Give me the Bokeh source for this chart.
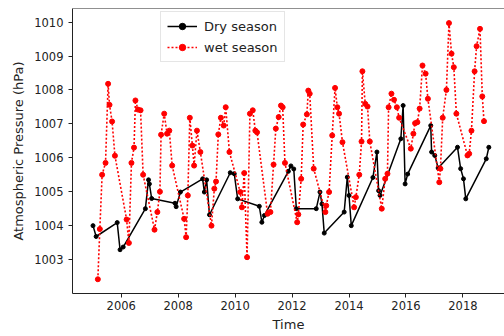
from bokeh.plotting import figure
from bokeh.models import (Range1d, FixedTicker, Legend, LegendItem, Span)
from bokeh.embed import file_html
from bokeh.resources import INLINE

# Monthly surface pressure (hPa), split by season; time in decimal years
dry_time = [2005.01, 2005.12, 2005.86, 2005.96, 2006.07,
            2006.85, 2006.96, 2006.99, 2007.07,
            2007.89, 2007.93, 2008.08,
            2008.86, 2008.92, 2009.00, 2009.10,
            2009.83, 2009.97, 2010.09,
            2010.85, 2010.94, 2011.03,
            2011.87, 2011.96, 2012.06, 2012.15,
            2012.85, 2012.98, 2013.05, 2013.13,
            2013.83, 2013.94, 2014.00, 2014.08,
            2014.84, 2014.98, 2015.04, 2015.09,
            2015.82, 2015.90, 2015.97, 2016.06,
            2016.87, 2016.90, 2017.01, 2017.13,
            2017.81, 2017.92, 2018.02, 2018.10,
            2018.82, 2018.91]
dry_pressure = [1004.00, 1003.68, 1004.09, 1003.29, 1003.37,
                1004.50, 1005.35, 1005.23, 1004.80,
                1004.66, 1004.56, 1004.99,
                1005.38, 1004.99, 1005.35, 1004.32,
                1005.56, 1005.53, 1004.79,
                1004.57, 1004.10, 1004.30,
                1005.60, 1005.76, 1005.67, 1004.50,
                1004.50, 1004.99, 1004.64, 1003.78,
                1004.40, 1005.43, 1004.89, 1004.00,
                1005.42, 1006.17, 1005.03, 1004.89,
                1006.56, 1007.54, 1005.23, 1005.52,
                1006.95, 1006.17, 1006.07, 1005.70,
                1006.31, 1005.68, 1005.38, 1004.79,
                1005.97, 1006.31]

wet_time = [2005.18, 2005.25, 2005.33, 2005.45, 2005.54, 2005.59, 2005.68, 2005.78,
            2006.19, 2006.27, 2006.36, 2006.45, 2006.50, 2006.59, 2006.68, 2006.77,
            2007.17, 2007.27, 2007.36, 2007.40, 2007.51, 2007.61, 2007.69, 2007.79,
            2008.21, 2008.28, 2008.34, 2008.41, 2008.50, 2008.56, 2008.66, 2008.78,
            2009.17, 2009.27, 2009.33, 2009.41, 2009.50, 2009.60, 2009.67, 2009.80,
            2010.18, 2010.24, 2010.32, 2010.42, 2010.52, 2010.62, 2010.71, 2010.77,
            2011.14, 2011.24, 2011.35, 2011.43, 2011.53, 2011.61, 2011.67, 2011.75,
            2012.18, 2012.22, 2012.32, 2012.39, 2012.52, 2012.57, 2012.62, 2012.76,
            2013.17, 2013.20, 2013.30, 2013.41, 2013.51, 2013.59, 2013.65, 2013.77,
            2014.18, 2014.24, 2014.36, 2014.44, 2014.47, 2014.57, 2014.65, 2014.73,
            2015.15, 2015.27, 2015.35, 2015.39, 2015.49, 2015.58, 2015.68, 2015.76,
            2016.17, 2016.26, 2016.32, 2016.40, 2016.48, 2016.58, 2016.69, 2016.77,
            2017.17, 2017.21, 2017.29, 2017.42, 2017.51, 2017.60, 2017.68, 2017.77,
            2018.16, 2018.22, 2018.30, 2018.41, 2018.48, 2018.60, 2018.68, 2018.74]
wet_pressure = [1002.42, 1003.90, 1005.50, 1005.85, 1008.18, 1007.56, 1007.07, 1006.06,
                1004.18, 1003.49, 1005.85, 1006.30, 1007.69, 1007.42, 1007.40, 1005.50,
                1003.88, 1004.40, 1005.00, 1006.68, 1007.30, 1006.71, 1006.80, 1005.77,
                1004.20, 1003.66, 1004.89, 1007.18, 1006.36, 1005.77, 1006.80, 1006.17,
                1004.00, 1005.09, 1005.30, 1006.69, 1007.18, 1006.95, 1007.49, 1006.17,
                1004.99, 1004.54, 1005.55, 1003.07, 1007.30, 1007.40, 1006.80, 1006.75,
                1004.35, 1004.40, 1005.80, 1006.86, 1007.20, 1007.54, 1007.49, 1005.85,
                1004.10, 1004.33, 1005.38, 1006.98, 1007.28, 1007.98, 1007.89, 1005.68,
                1004.40, 1004.59, 1004.99, 1006.66, 1008.06, 1007.49, 1007.30, 1006.46,
                1004.54, 1004.84, 1005.50, 1006.48, 1008.55, 1007.59, 1007.51, 1006.48,
                1004.50, 1005.38, 1005.53, 1007.49, 1007.89, 1007.71, 1007.49, 1007.18,
                1006.27, 1006.71, 1007.02, 1007.05, 1007.45, 1008.72, 1008.48, 1007.74,
                1005.28, 1005.68, 1007.18, 1008.00, 1009.97, 1009.07, 1008.67, 1007.30,
                1006.07, 1006.12, 1006.80, 1008.55, 1009.29, 1009.80, 1007.81, 1007.08]

year_ticks = [2006, 2008, 2010, 2012, 2014, 2016, 2018]
pressure_ticks = [1003, 1004, 1005, 1006, 1007, 1008, 1009, 1010]

FONT = "DejaVu Sans"
INK = "#222222"

p = figure(width=504, height=336, output_backend="svg", toolbar_location=None,
           x_range=Range1d(2004.29, 2019.46), y_range=Range1d(1002.0, 1010.4),
           min_border_left=72, min_border_right=0, min_border_top=8,
           min_border_bottom=43)
p.outline_line_color = None
p.grid.visible = False
p.background_fill_color = "white"
p.border_fill_color = "white"

# top spine only (the right one sits just outside the canvas)
p.add_layout(Span(location=1010.4, dimension="width", line_color=INK,
                  line_width=1))

dry_line = p.line(dry_time, dry_pressure, line_color="black", line_width=1.5)
dry_dots = p.scatter(dry_time, dry_pressure, size=4, fill_color="black",
                     line_color="black")
wet_line = p.line(wet_time, wet_pressure, line_color="red", line_width=1.6,
                  line_dash="2 2")
wet_dots = p.scatter(wet_time, wet_pressure, size=5, fill_color="red",
                     line_color="red")

p.xaxis.ticker = FixedTicker(ticks=year_ticks)
p.xaxis.major_label_overrides = {t: str(t) for t in year_ticks}
p.yaxis.ticker = FixedTicker(ticks=pressure_ticks)
p.yaxis.major_label_overrides = {t: str(t) for t in pressure_ticks}

for ax in (p.xaxis[0], p.yaxis[0]):
    ax.axis_line_color = INK
    ax.axis_line_width = 1
    ax.major_tick_line_color = INK
    ax.major_tick_out = 4
    ax.major_tick_in = 0
    ax.minor_tick_line_color = None
    ax.major_label_text_font = FONT
    ax.major_label_text_font_size = "11.5px"
    ax.major_label_text_color = INK
    ax.axis_label_text_font = FONT
    ax.axis_label_text_font_size = "13px"
    ax.axis_label_text_font_style = "normal"
    ax.axis_label_text_color = INK

p.xaxis.axis_label = "Time"
p.yaxis.axis_label = "Atmospheric Pressure (hPa)"
p.xaxis.major_label_standoff = 3
p.xaxis.axis_label_standoff = 4
p.yaxis.major_label_standoff = 5
p.yaxis.axis_label_standoff = 5

legend = Legend(items=[LegendItem(label="Dry season", renderers=[dry_line, dry_dots]),
                       LegendItem(label="wet season", renderers=[wet_line, wet_dots])],
                location=(88, 231))
legend.label_text_font = FONT
legend.label_text_font_size = "13px"
legend.label_text_color = INK
legend.glyph_width = 30
legend.glyph_height = 16
legend.spacing = 5
legend.padding = 6
legend.label_standoff = 7
legend.border_line_color = "#cccccc"
legend.border_line_width = 1
legend.background_fill_alpha = 0.9
legend.margin = 0
p.add_layout(legend, "center")

open("out.html", "w").write(file_html(p, INLINE))
